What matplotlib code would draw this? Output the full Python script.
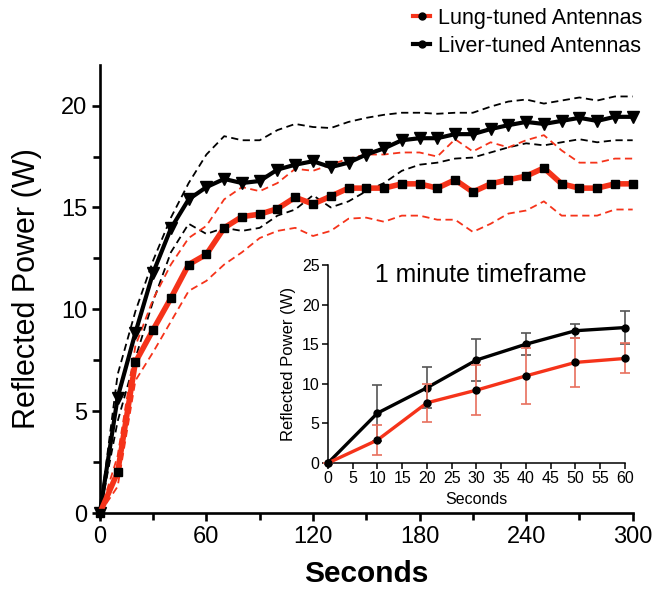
import numpy as np
import matplotlib.pyplot as plt
from matplotlib.lines import Line2D

plt.rcParams['font.family'] = ['Liberation Sans', 'DejaVu Sans']

# main chart: every 10 s from 0 to 300
seconds = np.arange(0, 301, 10)
lung_mean = [0, 2.0, 7.4, 9.0, 10.55, 12.2, 12.7, 14.0, 14.55, 14.67, 14.94, 15.5, 15.17, 15.55,
             15.95, 15.95, 15.95, 16.16, 16.16, 15.95, 16.36, 15.76, 16.16, 16.36, 16.54, 16.94,
             16.16, 15.95, 15.95, 16.16, 16.16]
lung_upper = [0, 2.8, 8.2, 10.5, 12.2, 13.5, 14.1, 15.4, 16.0, 15.8, 16.2, 16.9, 16.8, 17.1, 17.4,
              17.6, 17.6, 17.7, 17.7, 17.5, 18.35, 17.75, 18.2, 17.95, 18.3, 18.55, 17.8, 17.2,
              17.2, 17.4, 17.4]
lung_lower = [0, 1.3, 6.5, 7.9, 9.4, 10.9, 11.4, 12.2, 12.8, 13.5, 13.85, 14.0, 13.6, 13.85, 14.45,
              14.5, 14.3, 14.6, 14.6, 14.4, 14.4, 13.8, 14.2, 14.7, 14.85, 15.3, 14.6, 14.6, 14.6,
              14.9, 14.9]
liver_mean = [0, 5.67, 8.85, 11.8, 13.97, 15.4, 16.0, 16.4, 16.2, 16.3, 16.86, 17.1, 17.27, 16.98,
              17.2, 17.6, 17.9, 18.3, 18.4, 18.4, 18.6, 18.6, 18.85, 19.04, 19.2, 19.1, 19.25,
              19.4, 19.25, 19.45, 19.45]
liver_upper = [0, 6.8, 9.9, 12.4, 14.5, 16.2, 17.6, 18.5, 18.3, 18.3, 18.8, 19.1, 18.95, 18.9, 19.2,
               19.4, 19.55, 19.65, 19.65, 19.6, 19.65, 19.65, 19.95, 20.2, 20.3, 20.1, 20.25, 20.4,
               20.25, 20.45, 20.45]
liver_lower = [0, 4.5, 7.6, 10.4, 12.8, 14.2, 13.7, 14.0, 13.85, 14.0, 14.6, 14.9, 15.6, 15.0, 15.3,
               15.8, 16.2, 16.8, 17.1, 17.2, 17.4, 17.45, 17.7, 17.95, 18.15, 18.05, 18.2, 18.35,
               18.2, 18.3, 18.3]

# inset: first minute
inset_sec = [0, 10, 20, 30, 40, 50, 60]
inset_lung = [0, 2.9, 7.6, 9.2, 11.0, 12.7, 13.2]
inset_lung_err = [0, 1.9, 2.4, 3.2, 3.5, 3.1, 1.9]
inset_liver = [0, 6.3, 9.5, 13.0, 15.0, 16.7, 17.1]
inset_liver_err = [0, 3.5, 2.6, 2.7, 1.4, 0.9, 2.1]

red = '#f5331a'

fig = plt.figure(figsize=(6.57, 5.92), dpi=100)
ax = fig.add_axes([0.152, 0.1334, 0.811, 0.757])

dash = (0, (4, 2.5))
ax.plot(seconds, liver_upper, color='black', lw=1.3, ls=dash)
ax.plot(seconds, liver_lower, color='black', lw=1.3, ls=dash)
ax.plot(seconds, lung_upper, color=red, lw=1.3, ls=dash)
ax.plot(seconds, lung_lower, color=red, lw=1.3, ls=dash)
ax.plot(seconds, liver_mean, color='black', lw=3, marker='v', ms=8, mfc='black', mec='black',
        clip_on=False, zorder=4)
ax.plot(seconds, lung_mean, color=red, lw=4, marker='s', ms=6, mfc='black', mec='black',
        clip_on=False, zorder=5)

ax.set_xlim(0, 300)
ax.set_ylim(0, 22)
ax.set_xticks(range(0, 301, 60))
ax.set_xticks(range(30, 300, 60), minor=True)
ax.set_yticks([0, 5, 10, 15, 20])
ax.set_yticks([2.5, 7.5, 12.5, 17.5], minor=True)
for s in ['top', 'right']:
    ax.spines[s].set_visible(False)
for s in ['left', 'bottom']:
    ax.spines[s].set_linewidth(1.9)
ax.tick_params(which='major', length=6, width=1.9, labelsize=17, pad=3)
ax.tick_params(which='minor', length=5, width=1.9)
ax.set_xlabel('Seconds', fontsize=21.5, fontweight='bold', labelpad=9)
ax.set_ylabel('Reflected Power (W)', fontsize=22, labelpad=14)

handles = [Line2D([], [], color=red, lw=3, marker='o', ms=5, mfc='black', mec='black'),
           Line2D([], [], color='black', lw=3, marker='o', ms=5, mfc='black', mec='black')]
fig.legend(handles, ['Lung-tuned Antennas', 'Liver-tuned Antennas'], loc='upper left',
           bbox_to_anchor=(413 / 657, 1 - 8 / 592), frameon=False, fontsize=15.5,
           handlelength=0.8, handletextpad=0.35, labelspacing=0.32, borderpad=0, borderaxespad=0)

# inset
ax2 = fig.add_axes([0.4992, 0.2179, 0.452, 0.3345])
ax2.errorbar(inset_sec, inset_liver, yerr=inset_liver_err, color='black', lw=2.4, marker='o',
             ms=5, ecolor='#555555', elinewidth=1.2, capsize=3.5, capthick=1.2, clip_on=False,
             zorder=3)
ax2.errorbar(inset_sec, inset_lung, yerr=inset_lung_err, color=red, lw=2.4, marker='o', ms=5,
             mfc='black', mec='black', ecolor='#e8705e', elinewidth=1.2, capsize=3.5,
             capthick=1.2, clip_on=False, zorder=4)
ax2.set_xlim(0, 60)
ax2.set_ylim(0, 25)
ax2.set_xticks(range(0, 61, 5))
ax2.set_yticks(range(0, 26, 5))
for s in ['top', 'right']:
    ax2.spines[s].set_visible(False)
for s in ['left', 'bottom']:
    ax2.spines[s].set_linewidth(1.1)
ax2.tick_params(length=4, width=1.1, labelsize=11.5, pad=2)
ax2.set_xlabel('Seconds', fontsize=11.5, labelpad=4)
ax2.set_ylabel('Reflected Power (W)', fontsize=12, labelpad=4)
ax2.text(0.514, 0.95, '1 minute timeframe', transform=ax2.transAxes, fontsize=17.8,
         ha='center', va='center')

fig.savefig('out.png', dpi=100)
